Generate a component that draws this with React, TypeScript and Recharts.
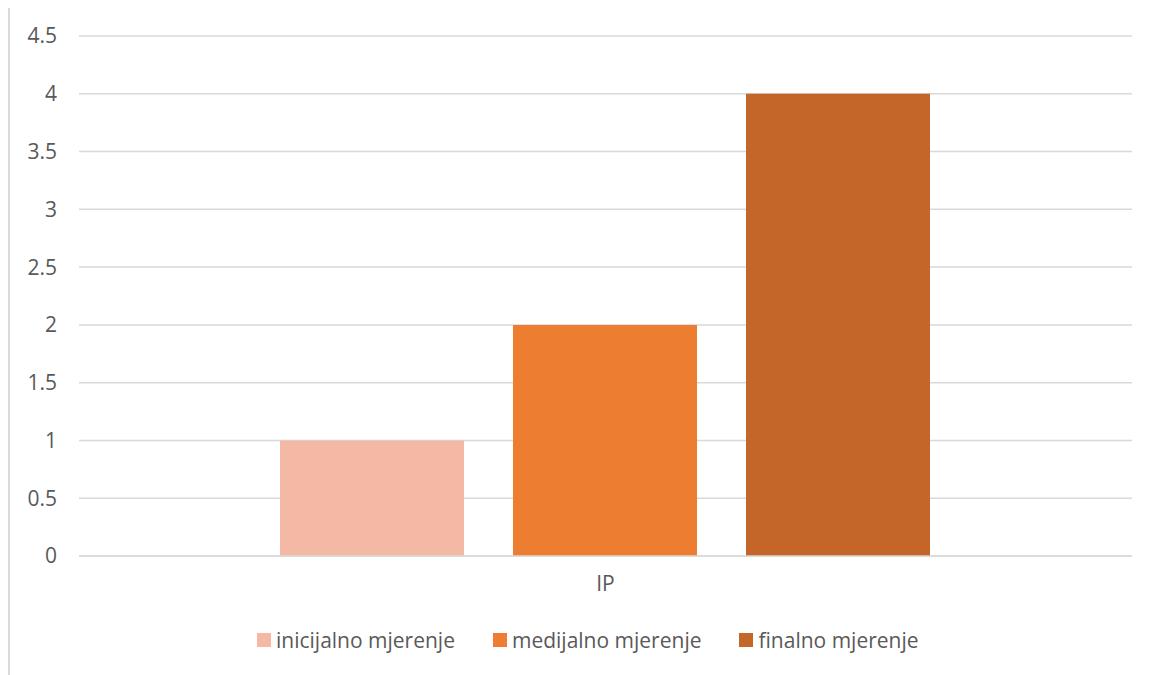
import React from "react";
import { BarChart, Bar, XAxis, YAxis, CartesianGrid, Legend } from "recharts";

const categories = ["IP"];
const seriesNames = ["inicijalno mjerenje", "medijalno mjerenje", "finalno mjerenje"];
const initialValues = [1];
const medialValues = [2];
const finalValues = [4];
const yTicks = [0, 0.5, 1, 1.5, 2, 2.5, 3, 3.5, 4, 4.5];

const colors = ["#F4B9A5", "#ED7D31", "#C4652A"];
const keys = ["inicijalno", "medijalno", "finalno"];

const data = categories.map((name, i) => ({
  name,
  inicijalno: initialValues[i],
  medijalno: medialValues[i],
  finalno: finalValues[i],
}));

const fontFamily = "'Open Sans', 'DejaVu Sans', sans-serif";

function LegendContent() {
  return (
    <div
      style={{
        height: 40,
        display: "flex",
        alignItems: "center",
        paddingLeft: 247,
        fontFamily,
        fontSize: 21,
        color: "#595959",
        whiteSpace: "nowrap",
      }}
    >
      {seriesNames.map((s, i) => (
        <div key={s} style={{ display: "flex", alignItems: "center", marginRight: i < 2 ? 38 : 0 }}>
          <span style={{ width: 14, height: 14, background: colors[i], marginRight: 5, display: "inline-block" }} />
          <span>{s}</span>
        </div>
      ))}
    </div>
  );
}

export default function App() {
  return (
    <div
      style={{
        marginTop: -2,
        width: 1146,
        height: 669,
        borderTop: "2px solid #d9d9d9",
        borderLeft: "2px solid #d9d9d9",
        boxSizing: "border-box",
        background: "#fff",
        position: "relative",
      }}
    >
      <BarChart
        width={1144}
        height={667}
        data={data}
        margin={{ top: 28, right: 22, left: 0, bottom: 15 }}
        barCategoryGap={201}
        barGap={49}
      >
        <CartesianGrid vertical={false} stroke="#d9d9d9" strokeWidth={1.5} />
        <XAxis
          dataKey="name"
          height={64}
          tickLine={false}
          tickSize={0}
          tickMargin={20}
          axisLine={{ stroke: "#d9d9d9", strokeWidth: 1.5 }}
          tick={{ fill: "#595959", fontSize: 21, fontFamily }}
        />
        <YAxis
          width={69}
          domain={[0, 4.5]}
          ticks={yTicks}
          interval={0}
          axisLine={false}
          tickLine={false}
          tickSize={0}
          tickMargin={22}
          tick={{ fill: "#595959", fontSize: 21, fontFamily }}
        />
        <Legend
          verticalAlign="bottom"
          wrapperStyle={{ left: 0, width: 1144 }}
          content={() => <LegendContent />}
        />
        {keys.map((k, i) => (
          <Bar key={k} dataKey={k} name={seriesNames[i]} fill={colors[i]} isAnimationActive={false} />
        ))}
      </BarChart>
    </div>
  );
}
